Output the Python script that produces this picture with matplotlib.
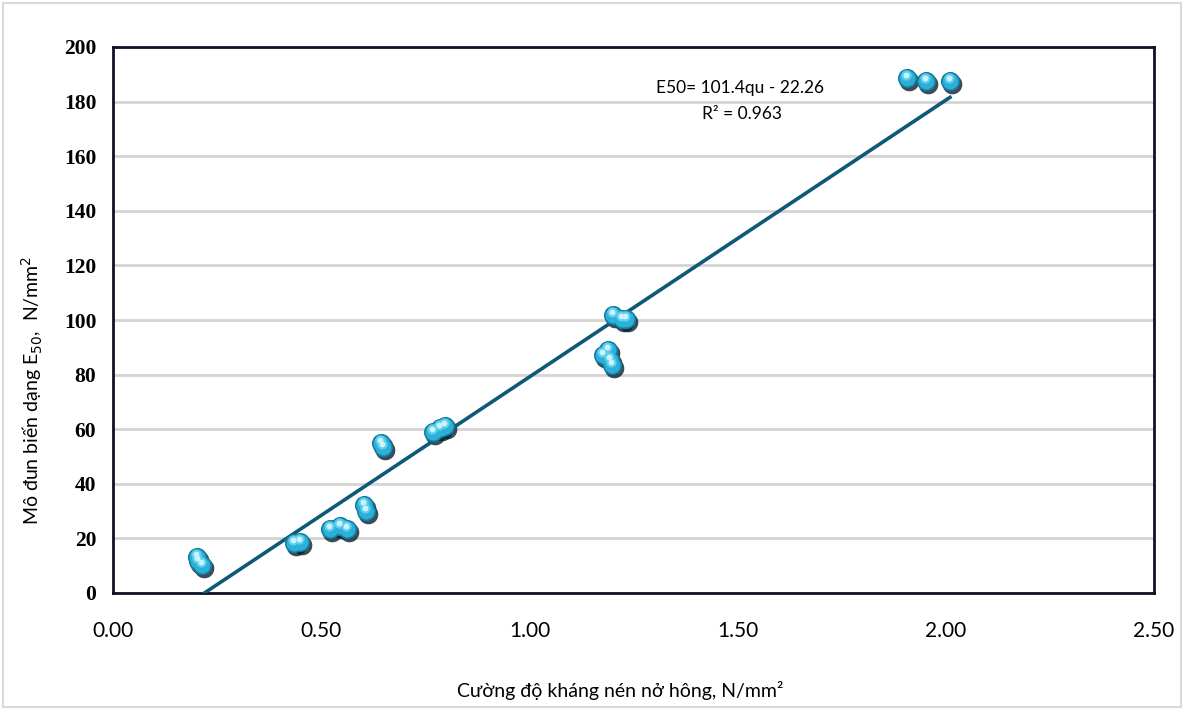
import matplotlib.pyplot as plt
import matplotlib.patches as patches
from matplotlib.transforms import offset_copy
import numpy as np

# uniaxial strength qu (N/mm2) and secant modulus E50 (N/mm2)
qu = [0.202, 0.203, 0.214, 0.435, 0.449, 0.521, 0.545, 0.562, 0.603, 0.608,
      0.644, 0.648, 0.768, 0.785, 0.797, 1.177, 1.189, 1.194, 1.198, 1.201,
      1.222, 1.232, 1.907, 1.952, 2.010]
e50 = [13.2, 11.6, 10.3, 18.3, 18.5, 23.4, 24.5, 23.3, 32.2, 30.2,
       54.9, 53.5, 59.0, 60.5, 61.2, 87.2, 89.0, 85.3, 83.5, 101.8,
       100.4, 100.4, 188.6, 187.5, 187.5]

slope, intercept = 101.4, -22.26
eq_text = 'E50= 101.4qu - 22.26'
r2_text = 'R² = 0.963'

xticks = [0.0, 0.5, 1.0, 1.5, 2.0, 2.5]
yticks = list(range(0, 201, 20))

sans = ['Lato', 'DejaVu Sans']

fig = plt.figure(figsize=(11.84, 7.10), dpi=100)
ax = fig.add_axes([113 / 1184, 117 / 710, 1041 / 1184, 546 / 710])

ax.set_xlim(0, 2.5)
ax.set_ylim(0, 200)
ax.set_yticks(yticks)
ax.set_xticks(xticks)
ax.set_xticklabels(['%.2f' % t for t in xticks], family=sans, fontsize=15)
ax.set_yticklabels([str(t) for t in yticks],
                   family='Liberation Serif', fontweight='bold', fontsize=15.5)
ax.tick_params(length=0, pad=12)
ax.tick_params(axis='x', pad=20)
ax.grid(axis='y', color='#d4d4d4', linewidth=2)
ax.set_axisbelow(True)
for sp in ax.spines.values():
    sp.set_color('#10102a')
    sp.set_linewidth(2)

# trend line over the data range
xl = np.array([min(qu), max(qu)])
ax.plot(xl, slope * xl + intercept, color='#0e5878', linewidth=2.6, zorder=3)

# sphere-like markers: shadow, body, lighter core, highlight
sh = offset_copy(ax.transData, fig=fig, x=2, y=-3, units='dots')
hl = offset_copy(ax.transData, fig=fig, x=-1, y=3, units='dots')
ax.scatter(qu, e50, s=200, color='#08202e', alpha=0.8, transform=sh, zorder=2, linewidths=0)
ax.scatter(qu, e50, s=190, color='#137fa3', zorder=4, linewidths=0)
ax.scatter(qu, e50, s=130, color='#2bb0d9', zorder=4, linewidths=0)
ax.scatter(qu, e50, s=55, color='#5fcdec', transform=hl, zorder=4, linewidths=0)
ax.scatter(qu, e50, s=18, color='#c8f3ff', transform=hl, zorder=4, linewidths=0)

ax.text(1.505, 185, eq_text, fontsize=12.5, ha='center', va='center', family=sans)
ax.text(1.51, 175.5, r2_text, fontsize=12.5, ha='center', va='center', family=sans)

fig.text(32 / 1184, 320 / 710, 'Mô đun biến dạng E$_{50}$,  N/mm$^2$',
         rotation=90, ha='center', va='center', fontsize=14, family=sans)
fig.text(620 / 1184, 20 / 710, 'Cường độ kháng nén nở hông, N/mm²',
         ha='center', va='center', fontsize=14, family=sans)

fig.patches.append(patches.Rectangle((3 / 1184, 3 / 710), 1178 / 1184, 704 / 710,
                                     transform=fig.transFigure, fill=False,
                                     edgecolor='#d9d9d9', linewidth=1.5))

fig.savefig('out.png', dpi=100)
